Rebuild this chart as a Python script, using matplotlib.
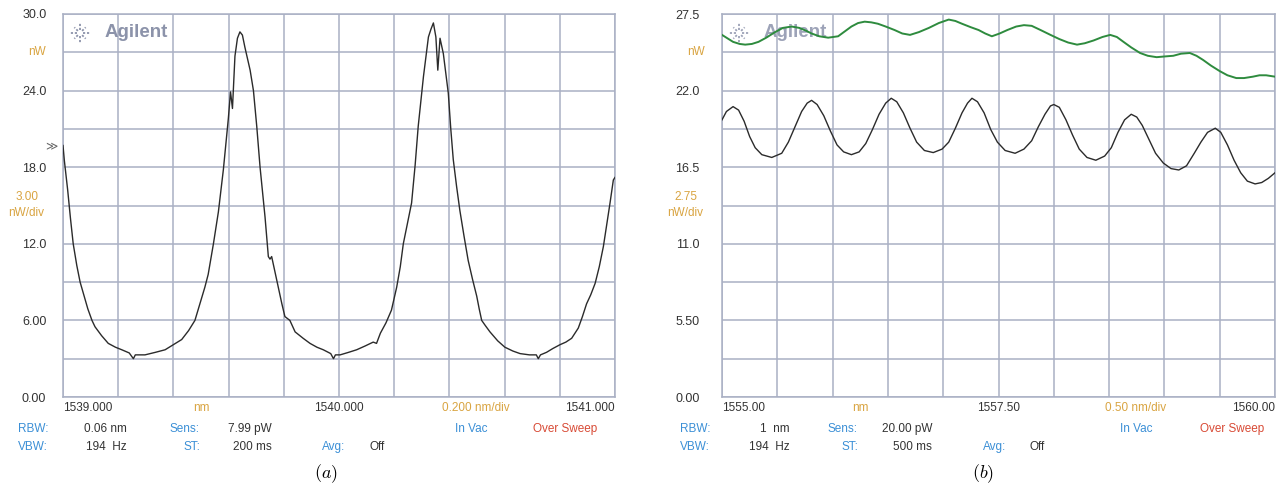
import numpy as np
import matplotlib.pyplot as plt
from matplotlib.lines import Line2D

# --- data ---
# (a) Fabry-Perot fringes, 1539-1541 nm
lam_a = [1539.000, 1539.005, 1539.017, 1539.027, 1539.037, 1539.050, 1539.062, 1539.074,
         1539.090, 1539.105, 1539.116, 1539.140, 1539.164, 1539.190, 1539.213, 1539.240,
         1539.255, 1539.262, 1539.297, 1539.335, 1539.370, 1539.400, 1539.430, 1539.455,
         1539.478, 1539.496, 1539.514, 1539.526, 1539.545, 1539.563, 1539.581, 1539.599,
         1539.607, 1539.614, 1539.623, 1539.632, 1539.641, 1539.650, 1539.659, 1539.678,
         1539.690, 1539.702, 1539.714, 1539.732, 1539.744, 1539.750, 1539.756, 1539.768,
         1539.780, 1539.793, 1539.804, 1539.822, 1539.841, 1539.870, 1539.895, 1539.920,
         1539.943, 1539.970, 1539.980, 1539.987, 1540.004, 1540.035, 1540.064, 1540.095,
         1540.124, 1540.136, 1540.150, 1540.170, 1540.190, 1540.209, 1540.222, 1540.233,
         1540.248, 1540.263, 1540.276, 1540.287, 1540.306, 1540.324, 1540.333, 1540.342,
         1540.351, 1540.358, 1540.366, 1540.378, 1540.396, 1540.405, 1540.414, 1540.426,
         1540.438, 1540.453, 1540.468, 1540.484, 1540.499, 1540.508, 1540.517, 1540.530,
         1540.547, 1540.575, 1540.601, 1540.630, 1540.656, 1540.690, 1540.715, 1540.722,
         1540.730, 1540.752, 1540.775, 1540.801, 1540.822, 1540.843, 1540.855, 1540.867,
         1540.882, 1540.897, 1540.912, 1540.928, 1540.943, 1540.958, 1540.970, 1540.982,
         1540.994, 1541.000]
p_a = [19.7, 18.5, 16.2, 14.0, 12.0, 10.3, 9.0, 8.1,
       6.9, 6.0, 5.5, 4.8, 4.2, 3.9, 3.7, 3.45,
       3.0, 3.3, 3.3, 3.5, 3.7, 4.1, 4.5, 5.2,
       6.0, 7.3, 8.6, 9.6, 12.0, 14.5, 17.8, 21.8,
       23.9, 22.6, 26.7, 28.1, 28.6, 28.35, 27.4, 25.6,
       24.0, 21.2, 18.0, 14.1, 11.0, 10.8, 11.0, 9.8,
       8.6, 7.3, 6.3, 6.0, 5.1, 4.6, 4.2, 3.9,
       3.7, 3.4, 3.0, 3.3, 3.3, 3.5, 3.7, 4.0,
       4.3, 4.2, 5.0, 5.8, 6.8, 8.6, 10.2, 12.0,
       13.6, 15.2, 18.2, 21.2, 25.1, 28.2, 28.8, 29.3,
       28.2, 25.6, 28.1, 26.9, 23.8, 21.0, 18.6, 16.5,
       14.6, 12.6, 10.7, 9.2, 7.9, 6.9, 6.0, 5.6,
       5.1, 4.4, 3.9, 3.6, 3.4, 3.3, 3.3, 3.0,
       3.3, 3.5, 3.8, 4.1, 4.3, 4.6, 5.0, 5.4,
       6.3, 7.3, 8.0, 8.9, 10.2, 11.8, 13.5, 15.2,
       17.0, 17.2]

# (b) 1555-1560 nm, black trace
lam_b = [1555.00, 1555.04, 1555.10, 1555.15, 1555.20, 1555.25, 1555.30, 1555.36, 1555.45,
         1555.54, 1555.60, 1555.66, 1555.72, 1555.77, 1555.81, 1555.86, 1555.92, 1555.98,
         1556.04, 1556.10, 1556.17, 1556.24, 1556.30, 1556.36, 1556.42, 1556.48, 1556.53,
         1556.58, 1556.64, 1556.70, 1556.76, 1556.83, 1556.91, 1556.99, 1557.05, 1557.11,
         1557.17, 1557.22, 1557.26, 1557.31, 1557.37, 1557.43, 1557.49, 1557.56, 1557.65,
         1557.73, 1557.80, 1557.86, 1557.92, 1557.97, 1558.00, 1558.05, 1558.11, 1558.17,
         1558.23, 1558.30, 1558.38, 1558.46, 1558.52, 1558.58, 1558.64, 1558.70, 1558.75,
         1558.80, 1558.86, 1558.92, 1558.99, 1559.06, 1559.13, 1559.20, 1559.27, 1559.33,
         1559.39, 1559.46, 1559.51, 1559.57, 1559.63, 1559.69, 1559.75, 1559.82, 1559.88,
         1559.94, 1560.00]
p_b = [19.9, 20.5, 20.85, 20.6, 19.8, 18.7, 17.9, 17.4, 17.2,
       17.5, 18.3, 19.4, 20.5, 21.1, 21.3, 21.0, 20.2, 19.1,
       18.1, 17.6, 17.4, 17.6, 18.2, 19.2, 20.3, 21.1, 21.45,
       21.2, 20.4, 19.3, 18.3, 17.7, 17.55, 17.8, 18.3, 19.3,
       20.4, 21.1, 21.45, 21.2, 20.4, 19.2, 18.3, 17.7, 17.5,
       17.8, 18.4, 19.4, 20.3, 20.9, 21.0, 20.8, 19.9, 18.8,
       17.8, 17.2, 17.0, 17.3, 17.9, 19.0, 19.9, 20.3, 20.1,
       19.5, 18.5, 17.5, 16.8, 16.4, 16.3, 16.6, 17.5, 18.3,
       19.0, 19.3, 19.0, 18.1, 17.0, 16.1, 15.5, 15.3, 15.4,
       15.7, 16.1]

# (b) green trace
lam_g = [1555.00, 1555.05, 1555.10, 1555.16, 1555.21, 1555.27, 1555.33, 1555.40, 1555.48,
         1555.55, 1555.63, 1555.70, 1555.76, 1555.81, 1555.88, 1555.96, 1556.05, 1556.11,
         1556.17, 1556.23, 1556.29, 1556.35, 1556.41, 1556.48, 1556.56, 1556.63, 1556.70,
         1556.78, 1556.87, 1556.96, 1557.05, 1557.11, 1557.17, 1557.25, 1557.32, 1557.38,
         1557.44, 1557.51, 1557.58, 1557.66, 1557.73, 1557.80, 1557.88, 1557.97, 1558.05,
         1558.13, 1558.21, 1558.28, 1558.36, 1558.44, 1558.51, 1558.57, 1558.63, 1558.70,
         1558.78, 1558.85, 1558.93, 1559.00, 1559.08, 1559.15, 1559.23, 1559.29, 1559.35,
         1559.42, 1559.50, 1559.57, 1559.65, 1559.72, 1559.80, 1559.86, 1559.92, 1560.00]
p_g = [26.0, 25.75, 25.5, 25.35, 25.3, 25.35, 25.5, 25.8, 26.2,
       26.5, 26.6, 26.5, 26.3, 26.1, 25.9, 25.8, 25.9, 26.25,
       26.6, 26.85, 26.95, 26.9, 26.8, 26.6, 26.35, 26.1, 26.0,
       26.2, 26.5, 26.85, 27.1, 27.0, 26.8, 26.55, 26.35, 26.1,
       25.9, 26.1, 26.35, 26.6, 26.7, 26.65, 26.35, 26.0, 25.7,
       25.45, 25.3, 25.4, 25.6, 25.85, 26.0, 25.85, 25.5, 25.1,
       24.7, 24.5, 24.4, 24.45, 24.5, 24.65, 24.7, 24.5, 24.2,
       23.8, 23.4, 23.1, 22.9, 22.9, 23.0, 23.1, 23.1, 23.0]

yticks_a = ["0.00", "6.00", "12.0", "18.0", "24.0", "30.0"]
yticks_b = ["0.00", "5.50", "11.0", "16.5", "22.0", "27.5"]

W, H = 1282, 488
GRID = "#aab0c4"
ORANGE = "#d9a441"
BLUE = "#3b8fd6"
RED = "#d84a35"
DARK = "#333333"
LOGO = "#8c93aa"

plt.rcParams["font.family"] = ["Liberation Sans", "DejaVu Sans"]
plt.rcParams["mathtext.fontset"] = "cm"

fig = plt.figure(figsize=(W / 100, H / 100), dpi=100)
ax_a = fig.add_axes([63 / W, 91 / H, 552 / W, 383 / H])
ax_b = fig.add_axes([722 / W, 91 / H, 553 / W, 383 / H])


def setup(ax, xlo, xhi, ytop, ylabels, pad, xlabels, div_text, step, logo_color):
    ax.set_xlim(xlo, xhi)
    ax.set_ylim(0, ytop)
    ax.set_xticks(np.linspace(xlo, xhi, 11))
    ax.set_xticklabels([])
    ax.set_yticks(np.linspace(0, ytop, 6))
    ax.set_yticklabels(ylabels)
    ax.set_yticks(np.linspace(0, ytop, 11), minor=True)
    ax.grid(True, which="both", color=GRID, lw=1.1)
    ax.set_axisbelow(True)
    ax.tick_params(which="both", length=0)
    ax.tick_params(axis="y", pad=pad, labelsize=9, labelcolor=DARK)
    for s in ax.spines.values():
        s.set_color(GRID)
        s.set_linewidth(1.1)

    # x labels row under the grid
    ty = -0.0287
    kw = dict(transform=ax.transAxes, va="center", fontsize=8.5)
    ax.text(0, ty, xlabels[0], ha="left", color=DARK, **kw)
    ax.text(0.5, ty, xlabels[1], ha="center", color=DARK, **kw)
    ax.text(1, ty, xlabels[2], ha="right", color=DARK, **kw)
    ax.text(0.25, ty, "nm", ha="center", color=ORANGE, **kw)
    ax.text(0.748, ty, div_text, ha="center", color=ORANGE, **kw)

    # unit labels on the left
    ax.text(-0.031, 0.90, "nW", ha="right", color=ORANGE, **kw)
    ax.text(-0.066, 0.522, step, ha="center", color=ORANGE, **kw)
    ax.text(-0.066, 0.48, "nW/div", ha="center", color=ORANGE, **kw)

    # Agilent logo
    ax.text(0.076, 0.953, "Agilent", transform=ax.transAxes, ha="left", va="center",
            fontsize=13.5, fontweight="bold", color=logo_color, zorder=1)
    cx = ax.get_position().x0 * W + 17
    cy = H - 33
    for k in range(8):
        ang = np.pi / 4 * k
        r1 = 10 if k % 2 == 0 else 8
        xs = np.array([cx + 3 * np.cos(ang), cx + r1 * np.cos(ang)])
        ys = np.array([cy + 3 * np.sin(ang), cy + r1 * np.sin(ang)])
        fig.add_artist(Line2D(xs / W, ys / H, transform=fig.transFigure,
                              color=logo_color, lw=1.3, ls=(0, (1.2, 1.0))))


setup(ax_a, 1539.0, 1541.0, 30.0, yticks_a, 12, ["1539.000", "1540.000", "1541.000"],
      "0.200 nm/div", "3.00", LOGO)
setup(ax_b, 1555.0, 1560.0, 27.5, yticks_b, 16, ["1555.00", "1557.50", "1560.00"],
      "0.50 nm/div", "2.75", "#9da3b8")

# reference-level marker on (a)
ax_a.text(-0.022, 19.6 / 30.0, "≫", transform=ax_a.transAxes, ha="center", va="center",
          fontsize=8.5, color="#666666")

ax_a.plot(lam_a, p_a, color="#2b2b2b", lw=1.0, zorder=3)
ax_b.plot(lam_b, p_b, color="#2b2b2b", lw=1.0, zorder=3)
ax_b.plot(lam_g, p_g, color="#2e8b3e", lw=1.4, zorder=3)


# info block under each panel
def info(ax, rows):
    x0 = ax.get_position().x0 * W
    for y_px, items in rows:
        for dx, s, color, ha in items:
            fig.text((x0 + dx) / W, 1 - y_px / H, s, color=color, ha=ha, va="center",
                     fontsize=8.5)


info(ax_a, [
    (429, [(-45, "RBW:", BLUE, "left"), (64, "0.06 nm", DARK, "right"),
           (137, "Sens:", BLUE, "right"), (165, "7.99 pW", DARK, "left"),
           (392, "In Vac", BLUE, "left"), (470, "Over Sweep", RED, "left")]),
    (447, [(-45, "VBW:", BLUE, "left"), (64, "194  Hz", DARK, "right"),
           (137, "ST:", BLUE, "right"), (170, "200 ms", DARK, "left"),
           (259, "Avg:", BLUE, "left"), (307, "Off", DARK, "left")]),
])
info(ax_b, [
    (429, [(-42, "RBW:", BLUE, "left"), (68, "1  nm", DARK, "right"),
           (136, "Sens:", BLUE, "right"), (160, "20.00 pW", DARK, "left"),
           (398, "In Vac", BLUE, "left"), (478, "Over Sweep", RED, "left")]),
    (447, [(-42, "VBW:", BLUE, "left"), (68, "194  Hz", DARK, "right"),
           (136, "ST:", BLUE, "right"), (171, "500 ms", DARK, "left"),
           (261, "Avg:", BLUE, "left"), (308, "Off", DARK, "left")]),
])

fig.text(326 / W, 1 - 474 / H, r"$(a)$", ha="center", va="center", fontsize=13)
fig.text(983 / W, 1 - 474 / H, r"$(b)$", ha="center", va="center", fontsize=13)

fig.savefig("out.png", dpi=100)
